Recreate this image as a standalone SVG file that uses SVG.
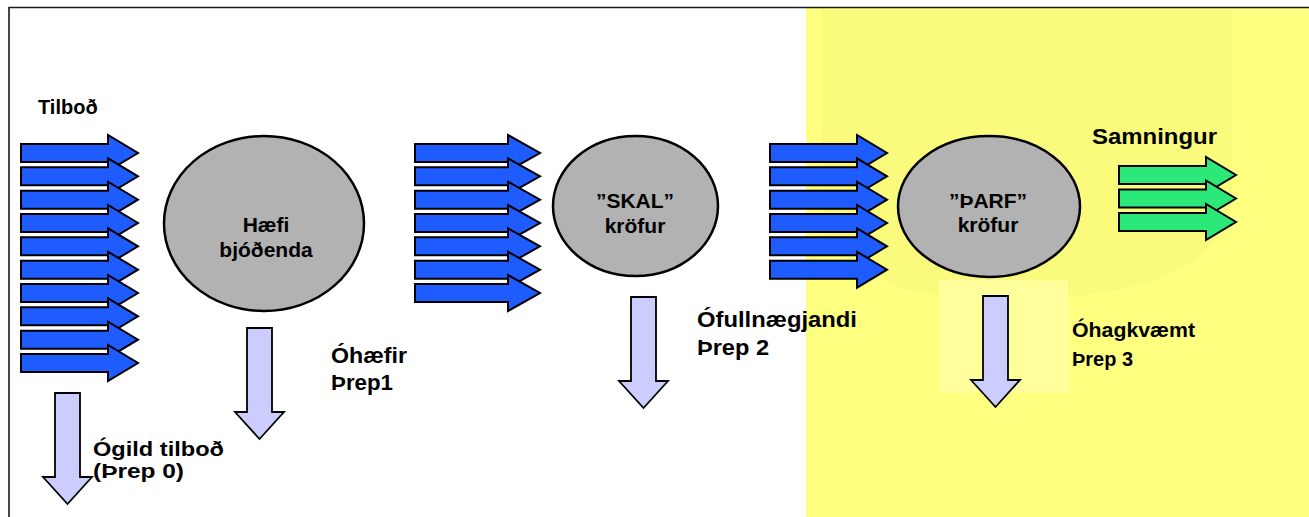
<svg xmlns="http://www.w3.org/2000/svg" width="1309" height="517" viewBox="0 0 1309 517">
<style>
  .lbl{font-family:"Liberation Sans",Arial,sans-serif;font-weight:bold;fill:#000}
  .ell{fill:#B2B2B2;stroke:#000;stroke-width:2.5}
  .blue{fill:#1F5CFF;stroke:#000;stroke-width:2;stroke-linejoin:miter}
  .green{fill:#2CE878;stroke:#000;stroke-width:2}
  .down{fill:#CCCCFF;stroke:#000;stroke-width:1.8}
  .frame{stroke:#1a1a1a;stroke-width:1.6;fill:none}
</style>
<defs>
  <path id="ra" d="M0,9 H87 V0 L117,18 L87,36 V27 H0 Z"/>
  <path id="ra2" d="M0,9 H93 V0 L125,18 L93,36 V27 H0 Z"/>
  <path id="da" d="M0,0 H25 V84 H37 L12.5,111 L-12,84 H0 Z"/>
</defs>

<g id="background">
  <rect x="0" y="0" width="1309" height="517" fill="#FFFFFF"/>
  <rect x="806" y="8" width="503" height="509" fill="#FFFF80"/>
  <path d="M822,10 V200 Q830,300 1000,300 Q1220,300 1232,200 V10 Z" fill="#000" fill-opacity="0.018"/>
  <rect x="939" y="280" width="129" height="113" fill="#FFFF9C"/>
  <path class="frame" d="M9,517 V7.5 H1309"/>
</g>

<g id="connectors">
  <g id="offers-in">
    <use href="#ra" class="blue" x="21" y="135"/>
    <use href="#ra" class="blue" x="21" y="158.3"/>
    <use href="#ra" class="blue" x="21" y="181.7"/>
    <use href="#ra" class="blue" x="21" y="205"/>
    <use href="#ra" class="blue" x="21" y="228.3"/>
    <use href="#ra" class="blue" x="21" y="251.7"/>
    <use href="#ra" class="blue" x="21" y="275"/>
    <use href="#ra" class="blue" x="21" y="298.3"/>
    <use href="#ra" class="blue" x="21" y="321.7"/>
    <use href="#ra" class="blue" x="21" y="345"/>
  </g>
  <g id="stage2-in">
    <use href="#ra2" class="blue" x="415" y="135"/>
    <use href="#ra2" class="blue" x="415" y="158.3"/>
    <use href="#ra2" class="blue" x="415" y="181.7"/>
    <use href="#ra2" class="blue" x="415" y="205"/>
    <use href="#ra2" class="blue" x="415" y="228.3"/>
    <use href="#ra2" class="blue" x="415" y="251.7"/>
    <use href="#ra2" class="blue" x="415" y="275"/>
  </g>
  <g id="stage3-in">
    <use href="#ra" class="blue" x="770" y="135"/>
    <use href="#ra" class="blue" x="770" y="158.3"/>
    <use href="#ra" class="blue" x="770" y="181.7"/>
    <use href="#ra" class="blue" x="770" y="205"/>
    <use href="#ra" class="blue" x="770" y="228.3"/>
    <use href="#ra" class="blue" x="770" y="251.7"/>
  </g>
  <g id="contract-out">
    <use href="#ra" class="green" x="1119" y="157"/>
    <use href="#ra" class="green" x="1119" y="180.5"/>
    <use href="#ra" class="green" x="1119" y="204"/>
  </g>
  <g id="rejects">
    <use href="#da" class="down" x="55" y="393"/>
    <use href="#da" class="down" x="247" y="328"/>
    <use href="#da" class="down" x="631" y="297"/>
    <use href="#da" class="down" x="983" y="296"/>
  </g>
</g>

<g id="node-tilbod">
  <text class="lbl" x="38" y="114" font-size="20">Tilboð</text>
</g>
<g id="node-haefi">
  <ellipse class="ell" cx="264" cy="223.5" rx="100" ry="87.5"/>
  <text class="lbl" x="266" y="232" font-size="21" text-anchor="middle">Hæfi</text>
  <text class="lbl" x="266" y="257" font-size="21" text-anchor="middle">bjóðenda</text>
</g>
<g id="node-skal">
  <ellipse class="ell" cx="635.5" cy="206" rx="82.5" ry="70"/>
  <text class="lbl" x="635" y="208" font-size="21" text-anchor="middle">”SKAL”</text>
  <text class="lbl" x="635" y="233" font-size="21" text-anchor="middle">kröfur</text>
</g>
<g id="node-tharf">
  <ellipse class="ell" cx="989" cy="206.5" rx="91" ry="70.5"/>
  <text class="lbl" x="988" y="208" font-size="21" text-anchor="middle">”ÞARF”</text>
  <text class="lbl" x="988" y="232" font-size="21" text-anchor="middle">kröfur</text>
</g>
<g id="node-samningur">
  <text class="lbl" x="1092" y="144" font-size="22" textLength="125" lengthAdjust="spacingAndGlyphs">Samningur</text>
</g>
<g id="node-ogild">
  <text class="lbl" x="93" y="456" font-size="21" textLength="131" lengthAdjust="spacingAndGlyphs">Ógild tilboð</text>
  <text class="lbl" x="93" y="478" font-size="21" textLength="91" lengthAdjust="spacingAndGlyphs">(Þrep 0)</text>
</g>
<g id="node-ohaefir">
  <text class="lbl" x="331" y="363" font-size="22" textLength="76" lengthAdjust="spacingAndGlyphs">Óhæfir</text>
  <text class="lbl" x="331" y="390" font-size="22" textLength="62" lengthAdjust="spacingAndGlyphs">Þrep1</text>
</g>
<g id="node-ofullnaegjandi">
  <text class="lbl" x="697" y="327" font-size="22" textLength="160" lengthAdjust="spacingAndGlyphs">Ófullnægjandi</text>
  <text class="lbl" x="697" y="355" font-size="22" textLength="72" lengthAdjust="spacingAndGlyphs">Þrep 2</text>
</g>
<g id="node-ohagkvaemt">
  <text class="lbl" x="1072" y="337" font-size="21" textLength="123" lengthAdjust="spacingAndGlyphs">Óhagkvæmt</text>
  <text class="lbl" x="1072" y="366" font-size="21" textLength="61" lengthAdjust="spacingAndGlyphs">Þrep 3</text>
</g>
</svg>
